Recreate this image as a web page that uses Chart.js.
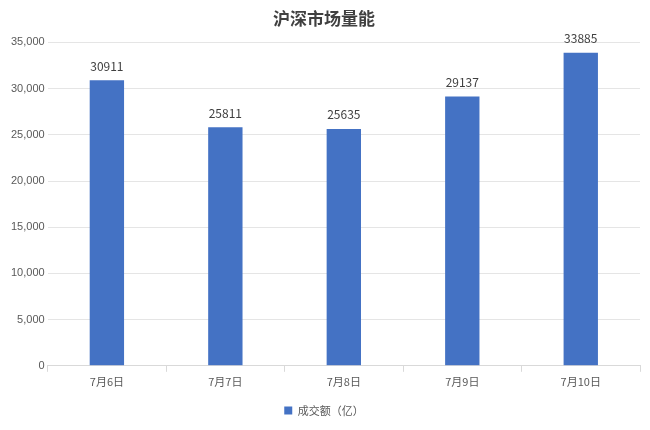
<!DOCTYPE html>
<html><head><meta charset="utf-8">
<script src="https://cdn.jsdelivr.net/npm/chart.js@4"></script>
<style>body{margin:0;background:#fff}#w{width:650px;height:430px}</style>
</head><body><div id="w"><canvas id="c"></canvas></div>
<script>
const categories = ["7月6日","7月7日","7月8日","7月9日","7月10日"];
const values = [30911,25811,25635,29137,33885];
const seriesName = "成交额（亿）";
const labelPlugin = {
  id:'lbl',
  afterDatasetsDraw(chart){
    const ctx=chart.ctx; const meta=chart.getDatasetMeta(0);
    ctx.save(); ctx.font='12px "Noto Sans CJK SC", sans-serif'; ctx.fillStyle='#404040';
    ctx.textAlign='center'; ctx.textBaseline='bottom';
    meta.data.forEach((b,i)=>ctx.fillText(values[i], b.x, b.y-8));
    ctx.restore();
  }
};
new Chart(document.getElementById('c'),{
  type:'bar',
  data:{labels:categories,datasets:[{label:seriesName,data:values,backgroundColor:'#4472C4',barPercentage:0.29,categoryPercentage:1}]},
  options:{responsive:true,maintainAspectRatio:false,animation:false,
    layout:{padding:{left:8,right:10,top:4,bottom:4}},
    plugins:{
      title:{display:true,text:'沪深市场量能',color:'#404040',font:{size:17,weight:'bold',family:'"Noto Sans CJK SC"'},padding:{top:4,bottom:14}},
      legend:{position:'bottom',labels:{boxWidth:8,boxHeight:8,color:'#595959',font:{size:11,family:'"Noto Sans CJK SC"'},padding:14}},
      tooltip:{enabled:false}
    },
    scales:{
      y:{min:0,max:35000,ticks:{stepSize:5000,color:'#595959',font:{size:11}},grid:{color:'#e5e5e5',drawTicks:false},border:{display:false}},
      x:{ticks:{color:'#595959',font:{size:11,family:'"Noto Sans CJK SC"'}},grid:{offset:true,drawOnChartArea:false,color:'#d9d9d9',tickLength:6},border:{color:'#d9d9d9'}}
    }
  },
  plugins:[labelPlugin]
});
</script></body></html>
